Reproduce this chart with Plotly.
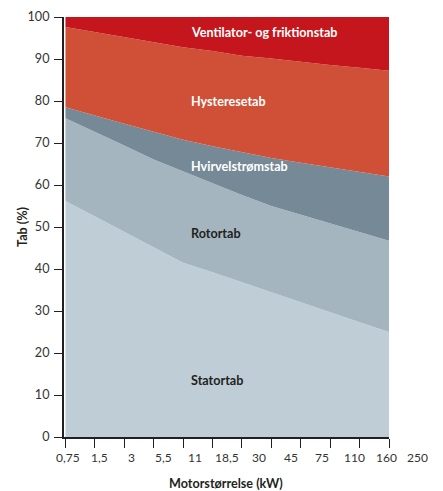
import plotly.graph_objects as go

# Categories (motor size, kW)
sizes = ["0,75", "1,5", "3", "5,5", "11", "18,5", "30", "45", "75", "110", "160", "250"]

# Loss shares (%) per category
stator = [56.2, 52.5, 48.7, 45.0, 41.5, 39.2, 36.8, 34.4, 32.1, 29.7, 27.3, 25.0]
rotor = [19.7, 20.2, 20.7, 21.1, 21.8, 21.2, 20.8, 20.6, 20.8, 21.1, 21.5, 21.7]
hvirvel = [2.6, 3.8, 5.2, 6.6, 7.5, 8.8, 10.2, 11.4, 12.4, 13.4, 14.3, 15.3]
hysterese = [19.1, 19.9, 20.6, 21.3, 22.0, 22.7, 23.0, 23.7, 24.0, 24.4, 24.8, 25.2]
ventilator = [2.4, 3.6, 4.8, 6.0, 7.2, 8.1, 9.2, 9.9, 10.7, 11.4, 12.1, 12.8]

series = [
    ("Statortab", stator, "#BFCED6", "#231F20"),
    ("Rotortab", rotor, "#A4B5BF", "#231F20"),
    ("Hvirvelstrømstab", hvirvel, "#758A96", "#FFFFFF"),
    ("Hysteresetab", hysterese, "#CF5036", "#FFFFFF"),
    ("Ventilator- og friktionstab", ventilator, "#C4161C", "#FFFFFF"),
]
label_y = [13.5, 48.5, 64.5, 80.0, 96.3]

x = list(range(len(sizes)))
FONT = "Lato"
XMIN, XMAX = -0.05, 11

fig = go.Figure()
for name, vals, col, _ in series:
    fig.add_trace(go.Scatter(
        x=x, y=vals, name=name, mode="lines", stackgroup="one",
        line=dict(width=0, color=col), fillcolor=col, hoverinfo="skip",
    ))

annotations = []
for (name, vals, col, tcol), ly in zip(series, label_y):
    annotations.append(dict(
        x=4.2, y=ly, xref="x", yref="y", text=name, showarrow=False,
        xanchor="left", yanchor="middle",
        font=dict(family=FONT, size=12.6, color=tcol, weight="bold"),
    ))

# x tick labels (placed slightly offset from ticks, as in the source)
for i, s in enumerate(sizes):
    xd = 0.08 + 1.082 * i
    annotations.append(dict(
        x=(xd - XMIN) / (XMAX - XMIN), y=0, xref="paper", yref="paper", text=s,
        showarrow=False, xanchor="center", yanchor="middle", yshift=-20,
        font=dict(family=FONT, size=12, color="#333333"),
    ))

annotations.append(dict(
    x=0.5, y=0, xref="paper", yref="paper", text="<b>Motorstørrelse (kW)</b>",
    showarrow=False, xanchor="center", yanchor="middle", yshift=-46, xshift=-1,
    font=dict(family=FONT, size=12.6, color="#231F20"),
))
annotations.append(dict(
    x=0, y=0.5, xref="paper", yref="paper", text="<b>Tab (%)</b>",
    showarrow=False, xanchor="center", yanchor="middle", xshift=-42, textangle=-90,
    font=dict(family=FONT, size=12.6, color="#231F20"),
))

fig.update_layout(
    width=443, height=491,
    margin=dict(l=64, r=54, t=17, b=54, autoexpand=False),
    paper_bgcolor="white", plot_bgcolor="white",
    showlegend=False,
    font=dict(family=FONT, size=12, color="#333333"),
    xaxis=dict(
        range=[XMIN, XMAX], tickvals=x, ticktext=[""] * len(x),
        ticks="outside", ticklen=9, tickwidth=1, tickcolor="#231F20",
        showline=True, linecolor="#231F20", linewidth=2,
        showgrid=False, zeroline=False, fixedrange=True, automargin=False,
    ),
    yaxis=dict(
        range=[0, 100], tickvals=list(range(0, 101, 10)),
        ticks="outside", ticklen=8, tickwidth=1, tickcolor="#231F20",
        showline=True, linecolor="#231F20", linewidth=2,
        showgrid=False, zeroline=False, fixedrange=True, automargin=False,
        tickfont=dict(family=FONT, size=12.6, color="#333333"),
        ticklabelstandoff=2,
    ),
    annotations=annotations,
)

fig.write_html(
    "out.html",
    config={"displayModeBar": False},
    post_script="document.body.style.margin='0';document.body.style.overflow='hidden';",
)
